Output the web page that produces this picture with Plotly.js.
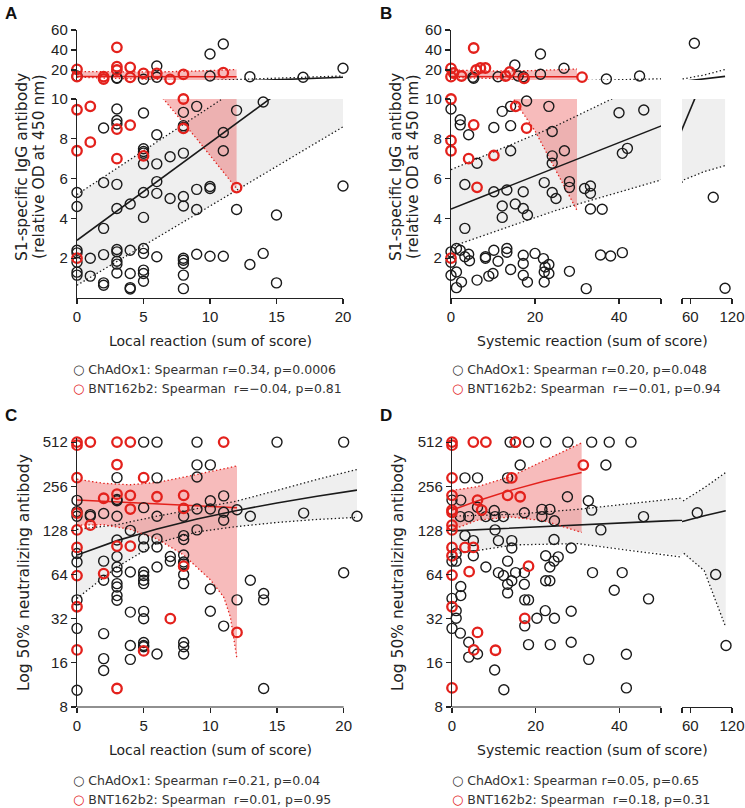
<!DOCTYPE html>
<html>
<head>
<meta charset="utf-8">
<script src="https://cdn.plot.ly/plotly-3.0.1.min.js"></script>
<style>body{margin:0;background:#fff}</style>
</head>
<body>
<div id="graphique" style="width:745px;height:808px"></div>
<script>
// ---------- Données ----------

// Panneau A : réaction locale / IgG anti-S1
let a_chad_x = [0,0,0,0,0,0,0,0, 1,1, 2,2,2,2,2,2, 3,3,3,3,3,3,3,3,3,3,3,3, 4,4,4,4,4, 5,5,5,5,5,5,5,5,5,5,5,5,5, 6,6,6,6,6,6,6, 7,7, 8,8,8,8,8,8,8,8,8,8,8, 9,9,9,9, 10,10,10,10,10, 11,11,11,11, 12,12, 13,13, 14,14, 15,15, 17, 20,20];
let a_chad_y = [14,5.3,4.6,2.4,2.27,1.8,1.3,1.15, 2.0,1.1, 8.54,5.8,3.5,2.18,0.76,0.64, 11.7,12.3,9.5,8.92,8.74,5.71,4.5,2.44,2.32,1.85,1.7,1.26, 4.72,2.4,1.23,0.52,0.45, 10.7,9.3,7.5,7.36,7.28,6.74,5.3,4.05,2.49,2.24,1.4,1.23,0.84, 24,12.7,8.2,6.74,5.85,5.26,2.07, 7.1,5.0, 9.33,8.66,8.57,7.28,5.1,4.62,2.0,1.9,1.73,1.15,0.47, 9.63,5.46,4.45,2.2, 36,14,5.6,5.5,2.1, 46,8.32,7.4,2.1, 9.43,4.45, 13.3,1.68, 9.85,2.24, 4.17,0.76, 12.7, 21.7,5.63];
let a_bnt_x = [0,0,0,0,0, 1,1, 2,2, 3,3,3,3,3, 4,4,4, 5,5, 6, 7, 8,8,8, 11, 12];
let a_bnt_y = [20.7,13.3,9.46,7.4,2.0, 9.63,7.83, 13.3,11, 42.7,23.3,20,8.49,7.0, 22.7,12.7,8.69, 16.7,7.14, 16.7, 10.7, 15.7,10,8.52, 17.3, 5.55];
let a_chad_reg_x = [0, 5, 10, 15, 20];
let a_chad_reg = [2.9, 5.35, 7.8, 10.25, 12.7];
let a_chad_haut = [5.2, 7.4, 9.6, 11.8, 14.0];
let a_chad_bas = [0.64, 2.63, 4.62, 6.6, 8.6];
let a_bnt_reg_x = [0, 3, 6, 9, 12];
let a_bnt_reg = [13.5, 13.4, 13.3, 13.2, 13.2];
let a_bnt_haut = [18.5, 18, 18, 19, 20.5];
let a_bnt_bas = [12.8, 11.8, 10.4, 8.0, 5.5];

// Panneau B : réaction systémique / IgG anti-S1
let b_chad_x = [5.4,5.2,11.2,15.2,16,17.2,21.3,21.3,26.9,37,44.9,65.8, 0,0,0,0, 1.3,1.3,1.3, 2.2,2.2,2.2,2.5, 3.3,3.3,3.3, 4.2,4.2,4.4, 6.2,6.2, 8.2,8.2, 9,10,10.2,10.2,10.2, 11.2, 12.2,12.2,12.2, 13.3,13.3,13.3, 14.2,14.2,14.2,14.2, 15.3, 17.2,17.2,17.2,17.2,17.2, 18.2,18.2,18, 20,22,22.2,22.4,22.2,22.2, 23.3,23.3,23.3, 24.1,24.1,24.1,24.1, 25, 27, 28.2,28.2,28.2, 31.8,32.2, 33.2,33.2,33.2, 35.6,36,38, 40,40.8,40.8,42, 45.9, 93,110];
let b_chad_y = [11.7,12.7,13.3,25,14,13.3,36,15.7,21.7,11,14,46.7, 9.5,2.32,1.8,1.14, 2.49,1.31,0.52, 8.96,8.7,2.4,0.8, 5.7,3.5,2.07, 8.2,2.2,1.87, 6.77,0.9, 2.07,2.0, 1.1,1.23,8.57,5.34,2.4, 1.85, 9.38,4.62,4.05, 2.49,2.3,5.43, 9.63,8.66,7.4,1.43, 4.72, 5.34,4.5,2.15,1.73,1.14, 4.17,0.8,9.9, 2.24,1.98,5.8,1.56,1.31,0.8, 9.63,1.68,1.23, 5.3,8.37,7.14,6.77, 5.0, 7.4, 5.85,5.56,1.34, 5.5,0.47, 5.63,5.26,4.47, 2.16,4.46,2.11, 9.31,2.28,7.27,7.52, 9.45, 5.06,0.49];
let b_bnt_x = [0,0,0.6,2.5,5.4,6,7,8.2,13,14,17.4,31.2, 0,0,0,0,5.4,4.2,6.2,10.2,15.4,18];
let b_bnt_y = [21.7,13.3,17,14,42,20,22,22,14,18,11.7,12.9, 10,7.92,7.4,2.0,8.7,7.0,5.56,7.16,9.63,8.54];
let b_chad_reg_x = [0, 25, 50, 80, 110];
let b_chad_reg = [4.47, 6.56, 8.65, 11.15, 13.65];
let b_chad_haut = [6.45, 8.65, 11.2, 15, 20.5];
let b_chad_bas = [2.57, 4.4, 5.93, 6.35, 6.65];
let b_bnt_reg_x = [0, 10, 20, 30];
let b_bnt_reg = [13.4, 13.3, 13.3, 13.2];
let b_bnt_haut = [20, 19, 19.5, 21];
let b_bnt_bas = [12.5, 11.5, 8.4, 4.4];

// Panneau C : réaction locale / anticorps neutralisants
let c_chad_x = [0,0,0,0,0,0,0,0, 1,1, 2,2,2,2,2,2, 3,3,3,3,3,3,3,3,3,3,3,3, 4,4,4,4,4, 5,5,5,5,5,5,5,5,5,5,5,5,5, 6,6,6,6,6,6,6, 7,7, 8,8,8,8,8,8,8,8,8,8,8, 9,9,9,9,9, 10,10,10,10,10, 11,11,11,11, 12,12, 13,13, 14,14,14, 15, 17, 20,20, 21];
let c_chad_y = [205,172,160,89,78,43,27.5,10.4, 164,160, 167,79,58.5,25.3,17.1,14.2, 293,208,204,160,110,85,72,66.6,55.5,52.6,46,42.7, 128,66.6,35.5,21,16.9, 512,183,112,98.6,66.6,63,58.5,55.5,35.9,32,22,21,20.6, 512,292,160,112,98.6,72,18.4, 85,79, 160,118,111,87,78,75.7,64,55.5,22,20.6,18.4, 512,358,296,179,129, 358,204,179,51,36, 220,170,150,28.5, 177,43, 160,58.5, 47.5,43,10.7, 512, 168, 512,65.8, 160];
let c_bnt_x = [0,0,0,0,0,0,0,0,0, 1,1, 2,2, 3,3,3,3,3, 4,4,4,4, 5,5, 6, 7, 8,8,8, 11, 12];
let c_bnt_y = [512,488,293,168,129,98,63,38.6,19.6, 512,139, 212,65, 512,360,226,100,10.7, 512,222,179,100, 293,19.3, 217, 32, 222,181,73, 512, 25.8];
let c_chad_reg_x = [0, 3, 6, 9, 12, 15, 18, 21];
let c_chad_reg = [87, 109, 131, 153, 175, 197, 219, 241];
let c_chad_haut = [130, 140, 160, 180, 203, 240, 285, 333];
let c_chad_bas = [44, 72, 105, 125, 136, 145, 152, 157];
let c_bnt_reg_x = [0, 2, 4, 6, 8, 10, 11, 11.5, 12];
let c_bnt_reg = [206, 202, 199, 195, 191, 187, 185, 184, 183];
let c_bnt_haut = [286, 268, 262, 272, 295, 322, 337, 345, 352];
let c_bnt_bas = [139, 140, 130, 112, 87, 59, 45, 33, 17];

// Panneau D : réaction systémique / anticorps neutralisants
let d_chad_x = [0,0,0,0, 1,1,1,1, 2.1,2,2.1,2.1,2, 3.1,3.1, 4,4,4, 5.1,5.1, 6.1,6.1,6.1, 8.1,8.1, 10.1,10.3,10.3,10.2, 11.1,11.1, 12.3,12.3,12.4, 13.3,13.3,13.3,13.3, 13.9,14.3,14.3,14.3, 15.1,15.2, 16.3, 17.3,17.3,17.3,17.4,17.4, 18.3,18.3,18.3, 20.3, 21.5,21.5, 22.4,22.4,22.4,22.3, 23.4,23.4,23.4,23.5, 24.4,24.4,24.5,24.5,25.4, 27.6,27.7, 28.5,28.5,28.5, 32.6,32.7, 33.4,33.4,33.6, 35.6, 36.8, 37.6, 38.8, 40.7, 41.7,41.7, 42.8, 45.8, 47, 70,96.5,111.4];
let d_chad_y = [206,79,44,27.5, 89,79,36.3,32.2, 206,159,53,46,25.5, 292,118, 159,22.1,17.5, 109,86, 292,184,18.4, 159,72, 175,159,129,14.3, 109,66, 159,63,10.5, 292,79,55,48, 512,109,97,58, 512,66, 357, 169,66,55,43,28.6, 512,43,21.3, 32.2, 178,159, 512,86,58,36.3, 178,72,58,21.3, 111,79,149,32.2,84.5, 217,512, 97,36,22.1, 204,16.9, 512,176,66, 129, 357, 512, 50, 66, 18.3,10.8, 512, 159, 43.7, 169,64,21];
let d_bnt_x = [0,0,0,0,0,0,0,0,0,0,0,0,0, 3.1,4.1,5.1,5.1,5.2,6.1,6.1,7.1,8.1,10.4,13.3,14.3,15.2,16.3,17.4,18.3,31.4];
let d_bnt_y = [512,488,292,222,176,170,139,129,98,86,63.5,38.6,10.8, 98,67,512,98,19.6,206,25.8,176,512,19.5,222,292,512,217,32.2,73,357];
let d_chad_reg_x = [0, 15, 30, 50, 80, 111];
let d_chad_reg = [127, 133, 140, 148, 161, 174];
let d_chad_haut = [160, 165, 178, 203, 250, 318];
let d_chad_bas = [88, 102, 104, 90, 68, 28];
let d_bnt_reg_x = [0, 6, 14, 22, 31];
let d_bnt_reg = [176, 203, 240, 277, 318];
let d_bnt_haut = [240, 254, 298, 380, 506];
let d_bnt_bas = [129, 150, 158, 149, 124];

// Graduations et textes
let ticks_igg_bas = [2, 4, 6, 8, 10];
let ticks_igg_haut = [20, 40, 60];
let ticks_nab = [8, 16, 32, 64, 128, 256, 512];
let ticks_local = [0, 5, 10, 15, 20];
let ticks_syst = [0, 20, 40, 50];
let textes_syst = ['0', '20', '40', ''];
let ticks_syst_droite = [48, 60, 120];
let textes_syst_droite = ['', '60', '120'];
let legendes_chad = ['r=0.34, p=0.0006', 'r=0.20, p=0.048', 'r=0.21, p=0.04', 'r=0.05, p=0.65'];
let legendes_bnt = ['r=\u22120.04, p=0.81', 'r=\u22120.01, p=0.94', 'r=0.01, p=0.95', 'r=0.18, p=0.31'];

// ---------- Styles ----------
let noir = '#1a1a1a';
let rouge = '#e3211c';
let gris = '#efefef';
let rose = 'rgba(234, 84, 84, 0.40)';
let pointille = '1.4px,2.4px';
let W = 745, H = 808;

function px_x(p) { return p / W; }
function px_y(p) { return 1 - p / H; }

let traces = [];

/**
 * Garde les points qui vérifient le test (pour les axes coupés)
 */
function decoupe(xs, ys, test) {
    let sx = [], sy = [];
    for (let i = 0; i < xs.length; i++) {
        if (test(xs[i], ys[i])) { sx.push(xs[i]); sy.push(ys[i]); }
    }
    return [sx, sy];
}

function ajoute_nuage(xy, couleur, epaisseur, taille, sg) {
    traces.push({
        x: xy[0], y: xy[1], xaxis: sg[0], yaxis: sg[1],
        type: 'scatter', mode: 'markers', cliponaxis: false, hoverinfo: 'skip',
        marker: {symbol: 'circle-open', size: taille, color: couleur, line: {width: epaisseur, color: couleur}}
    });
}

function ajoute_bande(xs, bas, haut, couleur, sg) {
    traces.push({
        x: xs.concat(xs.slice().reverse()),
        y: haut.concat(bas.slice().reverse()),
        xaxis: sg[0], yaxis: sg[1], type: 'scatter', mode: 'lines',
        fill: 'toself', fillcolor: couleur, line: {width: 0}, hoverinfo: 'skip'
    });
}

function ajoute_ligne(xs, ys, couleur, largeur, tiret, sg) {
    traces.push({
        x: xs, y: ys, xaxis: sg[0], yaxis: sg[1], type: 'scatter', mode: 'lines',
        line: {color: couleur, width: largeur, dash: tiret}, hoverinfo: 'skip'
    });
}

function ajoute_regression(xs, reg, haut, bas, couleur, largeur, sg) {
    ajoute_ligne(xs, haut, couleur, 1.3, pointille, sg);
    ajoute_ligne(xs, bas, couleur, 1.3, pointille, sg);
    ajoute_ligne(xs, reg, couleur, largeur, 'solid', sg);
}

// ---------- Panneau A ----------
let A_inf = ['x', 'y'], A_sup = ['x', 'y2'];
ajoute_bande(a_chad_reg_x, a_chad_bas, a_chad_haut, gris, A_inf);
[A_inf, A_sup].forEach(function (sg) {
    ajoute_bande(a_bnt_reg_x, a_bnt_bas, a_bnt_haut, rose, sg);
    ajoute_regression(a_chad_reg_x, a_chad_reg, a_chad_haut, a_chad_bas, noir, 1.6, sg);
    ajoute_regression(a_bnt_reg_x, a_bnt_reg, a_bnt_haut, a_bnt_bas, rouge, 1.5, sg);
});
ajoute_nuage(decoupe(a_chad_x, a_chad_y, (x, y) => y <= 10), noir, 1.4, 10, A_inf);
ajoute_nuage(decoupe(a_chad_x, a_chad_y, (x, y) => y > 10), noir, 1.4, 10, A_sup);
ajoute_nuage(decoupe(a_bnt_x, a_bnt_y, (x, y) => y <= 10), rouge, 2.3, 9.5, A_inf);
ajoute_nuage(decoupe(a_bnt_x, a_bnt_y, (x, y) => y > 10), rouge, 2.3, 9.5, A_sup);

// ---------- Panneau B ----------
let B_sg = [['x2', 'y3', (x, y) => x <= 50 && y <= 10], ['x2', 'y4', (x, y) => x <= 50 && y > 10],
            ['x3', 'y3', (x, y) => x > 50 && y <= 10], ['x3', 'y4', (x, y) => x > 50 && y > 10]];
B_sg.forEach(function (sg) {
    if (sg[1] === 'y3') ajoute_bande(b_chad_reg_x, b_chad_bas, b_chad_haut, gris, sg);
    ajoute_bande(b_bnt_reg_x, b_bnt_bas, b_bnt_haut, rose, sg);
    ajoute_regression(b_chad_reg_x, b_chad_reg, b_chad_haut, b_chad_bas, noir, 1.6, sg);
    ajoute_regression(b_bnt_reg_x, b_bnt_reg, b_bnt_haut, b_bnt_bas, rouge, 1.5, sg);
});
B_sg.forEach(function (sg) {
    ajoute_nuage(decoupe(b_chad_x, b_chad_y, sg[2]), noir, 1.4, 10, sg);
});
B_sg.forEach(function (sg) {
    ajoute_nuage(decoupe(b_bnt_x, b_bnt_y, sg[2]), rouge, 2.3, 9.5, sg);
});

// ---------- Panneau C ----------
let C_sg = ['x4', 'y5'];
ajoute_bande(c_chad_reg_x, c_chad_bas, c_chad_haut, gris, C_sg);
ajoute_bande(c_bnt_reg_x, c_bnt_bas, c_bnt_haut, rose, C_sg);
ajoute_regression(c_chad_reg_x, c_chad_reg, c_chad_haut, c_chad_bas, noir, 1.6, C_sg);
ajoute_regression(c_bnt_reg_x, c_bnt_reg, c_bnt_haut, c_bnt_bas, rouge, 1.5, C_sg);
ajoute_nuage([c_chad_x, c_chad_y], noir, 1.4, 10, C_sg);
ajoute_nuage([c_bnt_x, c_bnt_y], rouge, 2.3, 9.5, C_sg);

// ---------- Panneau D ----------
let D_sg = [['x5', 'y6', (x) => x <= 50], ['x6', 'y6', (x) => x > 50]];
D_sg.forEach(function (sg) {
    ajoute_bande(d_chad_reg_x, d_chad_bas, d_chad_haut, gris, sg);
    ajoute_bande(d_bnt_reg_x, d_bnt_bas, d_bnt_haut, rose, sg);
    ajoute_regression(d_chad_reg_x, d_chad_reg, d_chad_haut, d_chad_bas, noir, 1.6, sg);
    ajoute_regression(d_bnt_reg_x, d_bnt_reg, d_bnt_haut, d_bnt_bas, rouge, 1.5, sg);
});
D_sg.forEach(function (sg) {
    ajoute_nuage(decoupe(d_chad_x, d_chad_y, sg[2]), noir, 1.4, 10, sg);
});
D_sg.forEach(function (sg) {
    ajoute_nuage(decoupe(d_bnt_x, d_bnt_y, sg[2]), rouge, 2.3, 9.5, sg);
});

// ---------- Axes ----------
let police_ticks = {family: 'Liberation Sans, Arial, sans-serif', size: 15, color: '#222'};
function axe(options) {
    let base = {
        showgrid: false, zeroline: false, showline: true, linecolor: '#222', linewidth: 1.2,
        ticks: 'outside', ticklen: 5, tickwidth: 1.2, tickcolor: '#222',
        tickfont: police_ticks, fixedrange: true
    };
    return Object.assign(base, options);
}

let y_bas = [px_y(298), px_y(99)];
let y_haut = [px_y(80), px_y(30)];
let y_log = [px_y(707), px_y(438)];
let plage_log = [Math.log10(8), Math.log10(546)];

let apparence = {
    width: W, height: H, autosize: false, showlegend: false,
    margin: {l: 0, r: 0, t: 0, b: 0},
    paper_bgcolor: '#fff', plot_bgcolor: 'rgba(0,0,0,0)',
    xaxis: axe({domain: [px_x(77), px_x(343)], range: [0, 20], anchor: 'y', tickvals: ticks_local}),
    yaxis: axe({domain: y_bas, range: [0, 10], anchor: 'x', tickvals: ticks_igg_bas}),
    yaxis2: axe({domain: y_haut, range: [10, 60], anchor: 'x', tickvals: ticks_igg_haut}),
    xaxis2: axe({domain: [px_x(451), px_x(661)], range: [0, 50], anchor: 'y3', tickvals: ticks_syst, ticktext: textes_syst}),
    xaxis3: axe({domain: [px_x(682), px_x(732)], range: [48, 120], anchor: 'y3', tickvals: ticks_syst_droite, ticktext: textes_syst_droite}),
    yaxis3: axe({domain: y_bas, range: [0, 10], anchor: 'x2', tickvals: ticks_igg_bas}),
    yaxis4: axe({domain: y_haut, range: [10, 60], anchor: 'x2', tickvals: ticks_igg_haut}),
    xaxis4: axe({domain: [px_x(77), px_x(357)], range: [0, 21], anchor: 'y5', showline: false, tickvals: ticks_local}),
    yaxis5: axe({domain: y_log, type: 'log', range: plage_log, anchor: 'x4', tickvals: ticks_nab, ticktext: ticks_nab.map(String)}),
    xaxis5: axe({domain: [px_x(452), px_x(682)], range: [0, 55], anchor: 'y6', showline: false, tickvals: ticks_syst, ticktext: textes_syst}),
    xaxis6: axe({domain: [px_x(682), px_x(732)], range: [48, 120], anchor: 'y6', tickvals: ticks_syst_droite, ticktext: textes_syst_droite}),
    yaxis6: axe({domain: y_log, type: 'log', range: plage_log, anchor: 'x5', tickvals: ticks_nab, ticktext: ticks_nab.map(String)}),
    // lignes d'axe x qui s'arrêtent avant les derniers points
    shapes: [
        {type: 'line', xref: 'x4', yref: 'y5 domain', x0: 0, x1: 20, y0: 0, y1: 0, line: {color: '#222', width: 1.2}},
        {type: 'line', xref: 'x5', yref: 'y6 domain', x0: 0, x1: 50, y0: 0, y1: 0, line: {color: '#222', width: 1.2}}
    ],
    annotations: []
};

// ---------- Textes ----------
let police_titre = {family: 'DejaVu Sans, sans-serif', size: 14, color: '#222'};
let police_titre_y = {family: 'DejaVu Sans, sans-serif', size: 15.5, color: '#222'};
let police_legende = {family: 'DejaVu Sans, sans-serif', size: 12.5, color: '#333'};

function texte(t, x, y, police, options) {
    apparence.annotations.push(Object.assign({
        text: t, x: px_x(x), y: px_y(y), xref: 'paper', yref: 'paper',
        showarrow: false, font: police, xanchor: 'center', yanchor: 'middle'
    }, options || {}));
}

let lettres = [['A', 3, 2], ['B', 378, 2], ['C', 3, 404], ['D', 378, 404]];
lettres.forEach(function (l) {
    texte('<b>' + l[0] + '</b>', l[1], l[2], {family: 'Liberation Sans, Arial, sans-serif', size: 17, color: '#111'},
        {xanchor: 'left', yanchor: 'top'});
});

// titres des axes y (deux lignes pour l'IgG)
[[22, 39], [396, 413]].forEach(function (p) {
    texte('S1-specific IgG antibody', p[0], 167, police_titre_y, {textangle: -90});
    texte('(relative OD at 450 nm)', p[1], 167, police_titre_y, {textangle: -90});
    texte('Log 50% neutralizing antibody', p[0] + 2, 573, police_titre_y, {textangle: -90});
});

// titres des axes x
texte('Local reaction (sum of score)', 210, 341, police_titre);
texte('Systemic reaction (sum of score)', 592, 341, police_titre);
texte('Local reaction (sum of score)', 210, 750, police_titre);
texte('Systemic reaction (sum of score)', 592, 750, police_titre);

// légendes
let rond = '<span style="font-size:13px">\u25CB</span>';
let rond_rouge = '<span style="font-size:13px;color:' + rouge + '">\u25CB</span>';
let positions_legende = [[71, 369], [450, 369], [71, 780], [450, 780]];
positions_legende.forEach(function (p, i) {
    texte(rond + ' ChAdOx1: Spearman ' + legendes_chad[i], p[0], p[1], police_legende, {xanchor: 'left'});
    texte(rond_rouge + ' BNT162b2: Spearman\u00a0 ' + legendes_bnt[i], p[0], p[1] + 19, police_legende, {xanchor: 'left'});
});

Plotly.newPlot('graphique', traces, apparence, {staticPlot: true, displayModeBar: false});
</script>
</body>
</html>
